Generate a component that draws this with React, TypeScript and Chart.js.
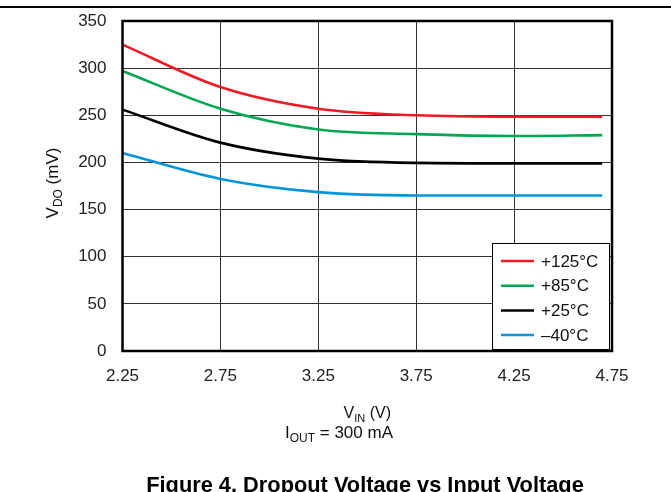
import React, { useEffect, useRef } from "react";
import { Chart, registerables } from "chart.js";

Chart.register(...registerables);

const vin = [2.25, 2.75, 3.25, 3.75, 4.25, 4.7];
const vdo125 = [325, 280, 257, 250, 248.5, 248.5];
const vdo85 = [297, 257, 235, 230, 228, 229];
const vdo25 = [256, 221, 204, 199.5, 199, 199];
const vdoM40 = [210, 182.5, 168.5, 165, 165, 165];
const seriesLabels = ["+125°C", "+85°C", "+25°C", "–40°C"];
const seriesColors = ["#ED1C24", "#00A651", "#000000", "#0095DA"];
const xTicks = [2.25, 2.75, 3.25, 3.75, 4.25, 4.75];
const yTicks = [0, 50, 100, 150, 200, 250, 300, 350];

const FONT = 'Arial, "Liberation Sans", sans-serif';

type Part = { t: string; sub?: boolean };

function drawRich(ctx: CanvasRenderingContext2D, parts: Part[], x: number, y: number, size: number, subSize: number) {
  let total = 0;
  const widths = parts.map((p) => {
    ctx.font = `${p.sub ? subSize : size}px ${FONT}`;
    const w = ctx.measureText(p.t).width;
    total += w;
    return w;
  });
  let cx = x - total / 2;
  ctx.textAlign = "left";
  ctx.textBaseline = "alphabetic";
  parts.forEach((p, i) => {
    ctx.font = `${p.sub ? subSize : size}px ${FONT}`;
    ctx.fillText(p.t, cx, p.sub ? y + 4 : y);
    cx += widths[i];
  });
}

const decorPlugin = {
  id: "decor",
  afterDraw(chart: any) {
    const ctx: CanvasRenderingContext2D = chart.ctx;
    const a = chart.chartArea;
    ctx.save();
    // top rule
    ctx.fillStyle = "#000";
    ctx.fillRect(0, 6, chart.width, 2);

    // legend box
    const lx = 492, ly = 243, lw = 117, lh = 106;
    ctx.fillStyle = "#fff";
    ctx.fillRect(lx, ly, lw, lh);
    ctx.strokeStyle = "#000";
    ctx.lineWidth = 1;
    ctx.strokeRect(lx + 0.5, ly + 0.5, lw, lh);
    const ds = chart.data.datasets;
    ds.forEach((d: any, i: number) => {
      const yy = 261 + i * 24.7;
      ctx.strokeStyle = d.borderColor;
      ctx.lineWidth = 2.5;
      ctx.beginPath();
      ctx.moveTo(501, yy);
      ctx.lineTo(534, yy);
      ctx.stroke();
      ctx.fillStyle = "#111";
      ctx.font = `17px ${FONT}`;
      ctx.textAlign = "left";
      ctx.textBaseline = "middle";
      ctx.fillText(d.label, 541, yy + 1);
    });

    // plot border
    ctx.strokeStyle = "#000";
    ctx.lineWidth = 2.5;
    ctx.strokeRect(a.left, a.top, a.right - a.left, a.bottom - a.top);

    // axis titles
    ctx.fillStyle = "#111";
    drawRich(ctx, [{ t: "V" }, { t: "IN", sub: true }, { t: " (V)" }], (a.left + a.right) / 2, 418, 16, 11);
    drawRich(ctx, [{ t: "I" }, { t: "OUT", sub: true }, { t: " = 300 mA" }], 339, 438, 17, 12);

    ctx.save();
    ctx.translate(58, 183);
    ctx.rotate(-Math.PI / 2);
    drawRich(ctx, [{ t: "V" }, { t: "DO", sub: true }, { t: " (mV)" }], 0, 0, 17, 12);
    ctx.restore();

    // caption
    ctx.font = `bold 21.8px ${FONT}`;
    ctx.textAlign = "center";
    ctx.textBaseline = "alphabetic";
    ctx.fillStyle = "#000";
    ctx.fillText("Figure 4. Dropout Voltage vs Input Voltage", 365, 491.5);
    ctx.restore();
  },
};

export default function App() {
  const ref = useRef<HTMLCanvasElement>(null);
  useEffect(() => {
    const canvas = ref.current!;
    const series = [vdo125, vdo85, vdo25, vdoM40];
    const chart = new Chart(canvas, {
      type: "line",
      data: {
        datasets: series.map((s, i) => ({
          label: seriesLabels[i],
          data: s.map((v, j) => ({ x: vin[j], y: v })),
          borderColor: seriesColors[i],
          backgroundColor: seriesColors[i],
          borderWidth: 2.6,
          pointRadius: 0,
          cubicInterpolationMode: "monotone" as const,
          fill: false,
        })),
      },
      options: {
        responsive: false,
        animation: false,
        devicePixelRatio: 1,
        layout: { padding: { left: 0, right: 59, top: 21, bottom: 0 } },
        plugins: { legend: { display: false }, tooltip: { enabled: false } },
        scales: {
          x: {
            type: "linear",
            min: 2.25,
            max: 4.75,
            afterBuildTicks: (scale: any) => {
              scale.ticks = xTicks.map((v) => ({ value: v }));
            },
            afterFit: (scale: any) => {
              scale.height = 141;
              scale.paddingLeft = 0;
              scale.paddingRight = 0;
            },
            grid: { color: "#333", lineWidth: 1, drawTicks: false },
            border: { display: false },
            ticks: {
              font: { family: FONT, size: 17 },
              color: "#222",
              padding: 15,
              maxRotation: 0,
              callback: (v: any) => Number(v).toFixed(2),
            },
          },
          y: {
            type: "linear",
            min: 0,
            max: 350,
            afterBuildTicks: (scale: any) => {
              scale.ticks = yTicks.map((v) => ({ value: v }));
            },
            afterFit: (scale: any) => {
              scale.width = 122.5;
              scale.paddingTop = 0;
              scale.paddingBottom = 0;
            },
            grid: { color: "#333", lineWidth: 1, drawTicks: false },
            border: { display: false },
            ticks: {
              font: { family: FONT, size: 17 },
              color: "#222",
              padding: 16,
            },
          },
        },
      },
      plugins: [decorPlugin],
    });
    return () => chart.destroy();
  }, []);
  return (
    <div style={{ position: "absolute", left: 0, top: 0, width: 671, height: 492, background: "#fff" }}>
      <canvas ref={ref} width={671} height={492} style={{ display: "block" }} />
    </div>
  );
}
